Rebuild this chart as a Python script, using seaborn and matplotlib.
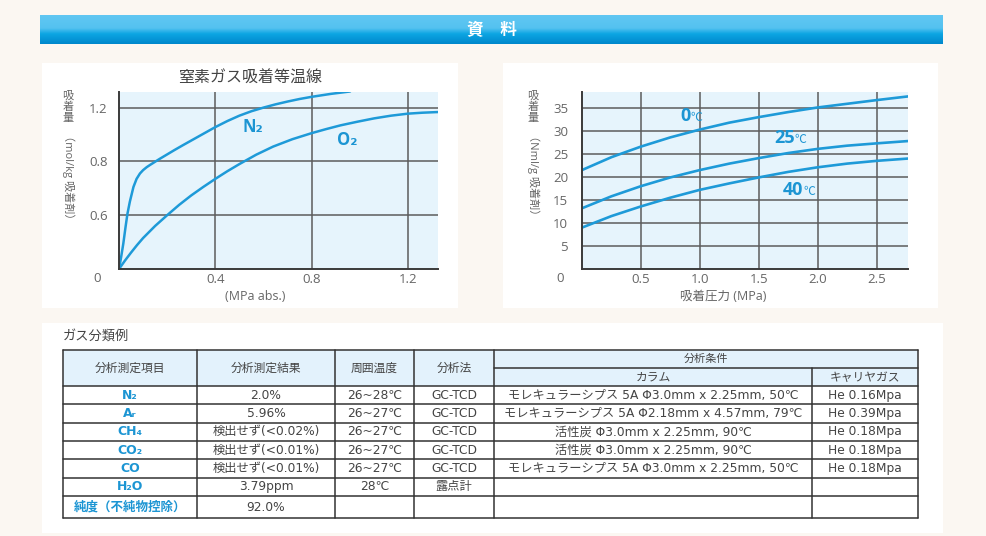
import numpy as np
import pandas as pd
import matplotlib
matplotlib.use("Agg")
import matplotlib.pyplot as plt
import seaborn as sns
from matplotlib.patches import Rectangle

# ---------------- data ----------------
banner_title = "資　料"

# left chart: nitrogen adsorption isotherm
left_title = "窒素ガス吸着等温線"
n2_p = [0, 0.009, 0.018, 0.027, 0.035, 0.045, 0.06, 0.073, 0.087, 0.10, 0.115, 0.13, 0.17,
        0.20, 0.23, 0.265, 0.30, 0.35, 0.40, 0.45, 0.50, 0.55, 0.60, 0.65, 0.70, 0.75, 0.80,
        0.88, 0.96]
n2_q = [0, 0.09, 0.19, 0.31, 0.41, 0.50, 0.61, 0.67, 0.71, 0.735, 0.757, 0.775, 0.82,
        0.852, 0.884, 0.92, 0.955, 1.005, 1.055, 1.10, 1.14, 1.173, 1.20, 1.224, 1.245, 1.264, 1.28,
        1.302, 1.32]
o2_p = [0, 0.025, 0.05, 0.075, 0.10, 0.15, 0.20, 0.25, 0.30, 0.35, 0.40, 0.45, 0.50, 0.57,
        0.64, 0.72, 0.80, 0.86, 0.92, 0.99, 1.06, 1.13, 1.20, 1.26, 1.325]
o2_q = [0, 0.063, 0.122, 0.178, 0.23, 0.32, 0.40, 0.477, 0.547, 0.61, 0.67, 0.727, 0.78, 0.85,
        0.91, 0.965, 1.01, 1.04, 1.068, 1.095, 1.12, 1.14, 1.155, 1.162, 1.167]
left_xticks = [0.4, 0.8, 1.2]
left_xticklabels = ["0.4", "0.8", "1.2"]
left_yticks = [0.4, 0.8, 1.2]
left_yticklabels = ["0.6", "0.8", "1.2"]
left_xlabel = "(MPa abs.)"
left_ylabel_top = "吸着量"
left_ylabel_rest = "（mol/kg 吸着剤）"

# right chart: adsorption vs pressure at 3 temperatures
temp_p = [0, 0.25, 0.5, 0.75, 1.0, 1.25, 1.5, 1.75, 2.0, 2.25, 2.5, 2.766]
t0_q = [21.5, 24.3, 26.6, 28.6, 30.3, 31.8, 33.0, 34.1, 35.1, 35.9, 36.7, 37.5]
t25_q = [13.2, 15.8, 18.0, 19.9, 21.5, 22.9, 24.1, 25.2, 26.1, 26.8, 27.3, 27.8]
t40_q = [9.0, 11.5, 13.6, 15.5, 17.2, 18.6, 19.9, 21.1, 22.1, 22.9, 23.5, 24.0]
temp_labels = ["0", "25", "40"]
right_xticks = [0.5, 1.0, 1.5, 2.0, 2.5]
right_xticklabels = ["0.5", "1.0", "1.5", "2.0", "2.5"]
right_yticks = [5, 10, 15, 20, 25, 30, 35]
right_yticklabels = ["5", "10", "15", "20", "25", "30", "35"]
right_xlabel = "吸着圧力 (MPa)"
right_ylabel_top = "吸着量"
right_ylabel_rest = "（Nml/g 吸着剤）"

# table
table_title = "ガス分類例"
col_headers = ["分析測定項目", "分析測定結果", "周囲温度", "分析法"]
cond_header = "分析条件"
sub_headers = ["カラム", "キャリヤガス"]
items = ["N₂", "Aᵣ", "CH₄", "CO₂", "CO", "H₂O", "純度（不純物控除）"]
results = ["2.0%", "5.96%", "検出せず(<0.02%)", "検出せず(<0.01%)", "検出せず(<0.01%)", "3.79ppm", "92.0%"]
temps = ["26~28℃", "26~27℃", "26~27℃", "26~27℃", "26~27℃", "28℃", ""]
methods = ["GC-TCD", "GC-TCD", "GC-TCD", "GC-TCD", "GC-TCD", "露点計", ""]
columns_ = ["モレキュラーシプス 5A Φ3.0mm x 2.25mm, 50℃",
            "モレキュラーシプス 5A Φ2.18mm x 4.57mm, 79℃",
            "活性炭 Φ3.0mm x 2.25mm, 90℃",
            "活性炭 Φ3.0mm x 2.25mm, 90℃",
            "モレキュラーシプス 5A Φ3.0mm x 2.25mm, 50℃",
            "", ""]
carriers = ["He 0.16Mpa", "He 0.39Mpa", "He 0.18Mpa", "He 0.18Mpa", "He 0.18Mpa", "", ""]

# ---------------- style ----------------
sns.set_theme(style="white")
FONTS = ['Open Sans', 'Noto Sans CJK JP', 'DejaVu Sans']
CJK = ['Noto Sans CJK JP', 'DejaVu Sans']
TABLEF = ['DejaVu Sans', 'Noto Sans CJK JP']
plt.rcParams['font.family'] = FONTS

BG = '#FBF7F2'
BLUE = '#1E9AD8'
LBLUE = '#1C95D3'
PLOTBG = '#E6F4FC'
GRID = '#5c5c5c'
TXT = '#444444'
TICK = '#666666'

W, H = 986, 536
fig = plt.figure(figsize=(W / 100, H / 100), dpi=100)
fig.patch.set_facecolor(BG)


def box(x0, y0, x1, y1):
    return [x0 / W, 1 - y1 / H, (x1 - x0) / W, (y1 - y0) / H]


bg = fig.add_axes([0, 0, 1, 1], zorder=0)
bg.axis('off')

# banner gradient
stops = np.array([[0.38, 0.78, 0.95], [0.33, 0.76, 0.94], [0.05, 0.65, 0.89], [0.0, 0.53, 0.80]])
pos = np.array([0.0, 0.45, 0.65, 1.0])
t = np.linspace(0, 1, 60)
grad = np.stack([np.interp(t, pos, stops[:, c]) for c in range(3)], axis=1)[:, None, :]
bg.imshow(grad, extent=[40, 943, 44, 15], origin='upper', aspect='auto', zorder=1)
bg.text(491.5, 30, banner_title, ha='center', va='center', color='white',
        fontsize=12, fontweight='bold', zorder=3, family=CJK)

# white panels
for (x0, y0, x1, y1) in [(42, 63, 458, 308), (503, 63, 938, 308), (42, 323, 943, 533)]:
    bg.add_patch(Rectangle((x0, y0), x1 - x0, y1 - y0, facecolor='white', edgecolor='none', zorder=1))

bg.set_xlim(0, W)
bg.set_ylim(H, 0)


def style_axes(ax, xlim, ylim, xt, xtl, yt, ytl, ypad):
    ax.set_facecolor(PLOTBG)
    ax.set_xlim(*xlim)
    ax.set_ylim(*ylim)
    ax.set_xticks(xt)
    ax.set_xticklabels(xtl)
    ax.set_yticks(yt)
    ax.set_yticklabels(ytl)
    ax.grid(True, color=GRID, lw=1.1)
    ax.set_axisbelow(True)
    for s in ['top', 'right']:
        ax.spines[s].set_visible(False)
    for s in ['left', 'bottom']:
        ax.spines[s].set_color('#3a3a3a')
        ax.spines[s].set_linewidth(1.4)
    ax.tick_params(axis='both', length=0, labelsize=9.5, labelcolor=TICK)
    ax.tick_params(axis='x', pad=3)
    ax.tick_params(axis='y', pad=ypad)
    ax.set_xlabel('')
    ax.set_ylabel('')
    ax.annotate("0", xy=(0, 0), xycoords='axes fraction', xytext=(-22 * 0.72, -9 * 0.72),
                textcoords='offset points', ha='center', va='center', fontsize=9.5, color=TICK)


# ---------------- left chart ----------------
ax1 = fig.add_axes(box(119, 92, 438, 269), zorder=2)
sns.lineplot(x=n2_p, y=n2_q, ax=ax1, color=BLUE, lw=1.8, estimator=None, sort=False)
sns.lineplot(x=o2_p, y=o2_q, ax=ax1, color=BLUE, lw=1.8, estimator=None, sort=False)
style_axes(ax1, (0, 1.325), (0, 1.316), left_xticks, left_xticklabels,
           left_yticks, left_yticklabels, 8)
ax1.text(0.42, 0.80, "N₂", transform=ax1.transAxes, ha='center', va='center',
         fontsize=12, fontweight='bold', color=LBLUE)
ax1.text(0.715, 0.729, "O₂", transform=ax1.transAxes, ha='center', va='center',
         fontsize=12, fontweight='bold', color=LBLUE)

bg.text(250, 78, left_title, ha='center', va='center', fontsize=11.5, color=TXT, zorder=3, family=CJK)
bg.text(255, 297, left_xlabel, ha='center', va='center', fontsize=9, color=TICK, zorder=3)
bg.text(68, 91, "\n".join(left_ylabel_top), ha='center', va='top', fontsize=8,
        color=TICK, linespacing=1.05, zorder=3, family=CJK)
bg.text(68, 130, left_ylabel_rest, ha='center', va='top', rotation=-90, fontsize=8,
        color=TICK, zorder=3)

# ---------------- right chart ----------------
ax2 = fig.add_axes(box(582, 92, 908, 269), zorder=2)
for q in [t0_q, t25_q, t40_q]:
    sns.lineplot(x=temp_p, y=q, ax=ax2, color=BLUE, lw=1.9, estimator=None, sort=False)
style_axes(ax2, (0, 2.766), (0, 38.46), right_xticks, right_xticklabels,
           right_yticks, right_yticklabels, 10)
for lab, (fx, fy) in zip(temp_labels, [(0.334, 0.864), (0.653, 0.740), (0.678, 0.446)]):
    ax2.text(fx, fy, lab, transform=ax2.transAxes, ha='right', va='center',
             fontsize=13, fontweight='bold', color=LBLUE)
    ax2.text(fx, fy - 0.01, "℃", transform=ax2.transAxes, ha='left', va='center',
             fontsize=8.5, color=LBLUE, family=CJK)

bg.text(723, 297, right_xlabel, ha='center', va='center', fontsize=9, color=TICK, zorder=3)
bg.text(533, 91, "\n".join(right_ylabel_top), ha='center', va='top', fontsize=8,
        color=TICK, linespacing=1.05, zorder=3, family=CJK)
bg.text(533, 130, right_ylabel_rest, ha='center', va='top', rotation=-90, fontsize=8,
        color=TICK, zorder=3)

# ---------------- table ----------------
bg.text(63, 337, table_title, ha='left', va='center', fontsize=9.5, color=TXT, zorder=3, family=CJK)

xs = [63, 197, 335, 414, 494, 812, 918]
y_top, y_mid, y_hdr = 350, 368, 386
ys = [386, 404.3, 422.6, 441, 459.3, 477.6, 496, 518.3]
LC = '#333333'
LW = 1.1

bg.add_patch(Rectangle((xs[0], y_top), xs[-1] - xs[0], y_hdr - y_top,
                       facecolor='#E3F2FC', edgecolor='none', zorder=2))
bg.plot([xs[0], xs[-1]], [y_top, y_top], color=LC, lw=LW, zorder=3)
bg.plot([xs[4], xs[-1]], [y_mid, y_mid], color=LC, lw=LW, zorder=3)
for yy in ys:
    bg.plot([xs[0], xs[-1]], [yy, yy], color=LC, lw=LW, zorder=3)
for i, xx in enumerate(xs):
    y0 = y_mid if i == 5 else y_top
    bg.plot([xx, xx], [y0, ys[-1]], color=LC, lw=LW, zorder=3)

FS = 8.8
for i, h in enumerate(col_headers):
    bg.text((xs[i] + xs[i + 1]) / 2, (y_top + y_hdr) / 2, h, ha='center', va='center',
            fontsize=8.5, color=TXT, zorder=4, family=CJK)
bg.text((xs[4] + xs[6]) / 2, (y_top + y_mid) / 2, cond_header, ha='center', va='center',
        fontsize=8, color=TXT, zorder=4, family=CJK)
for j, h in enumerate(sub_headers):
    bg.text((xs[4 + j] + xs[5 + j]) / 2, (y_mid + y_hdr) / 2, h, ha='center', va='center',
            fontsize=8.5, color=TXT, zorder=4, family=CJK)

for r in range(len(items)):
    yc = (ys[r] + ys[r + 1]) / 2
    bg.text((xs[0] + xs[1]) / 2, yc, items[r], ha='center', va='center', fontsize=9,
            fontweight='bold', color=LBLUE, zorder=4, family=TABLEF)
    for c, col in enumerate([results, temps, methods, columns_, carriers]):
        bg.text((xs[c + 1] + xs[c + 2]) / 2, yc, col[r], ha='center', va='center',
                fontsize=FS, color=TXT, zorder=4, family=TABLEF)

fig.savefig("out.png", dpi=100, facecolor=BG)
